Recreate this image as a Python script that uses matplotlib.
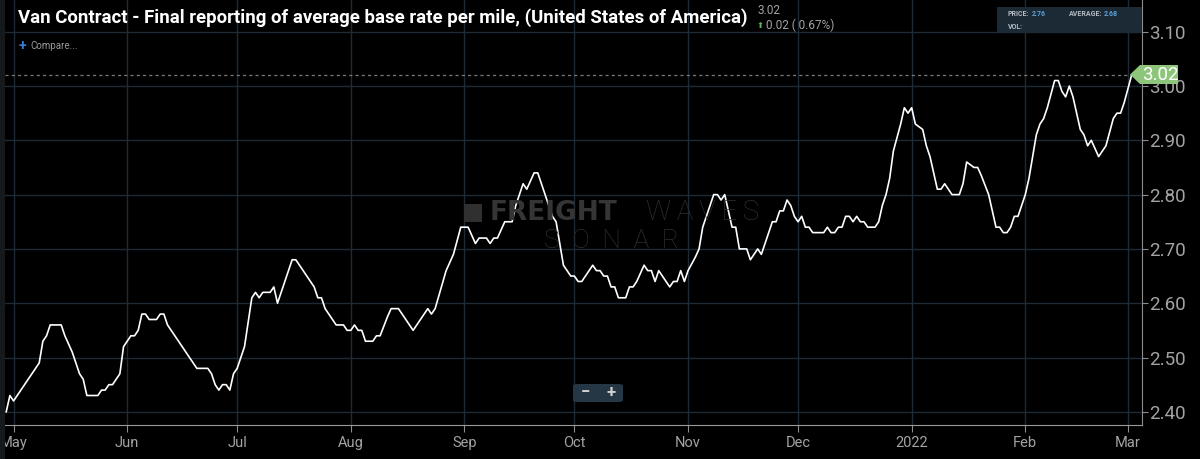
import matplotlib
matplotlib.use("Agg")
import matplotlib.pyplot as plt
import matplotlib.dates as mdates
from matplotlib.patches import Polygon, Rectangle, FancyBboxPatch
from matplotlib.ticker import FuncFormatter
import pandas as pd

# Van contract rate, USD per mile
dates = [
    "2021-04-29", "2021-04-30", "2021-05-01", "2021-05-05", "2021-05-07", "2021-05-08",
    "2021-05-09", "2021-05-10", "2021-05-11", "2021-05-14", "2021-05-15", "2021-05-17",
    "2021-05-19", "2021-05-20", "2021-05-21", "2021-05-24", "2021-05-25", "2021-05-26",
    "2021-05-27", "2021-05-28", "2021-05-30", "2021-05-31", "2021-06-02", "2021-06-03",
    "2021-06-04", "2021-06-05", "2021-06-06", "2021-06-07", "2021-06-09", "2021-06-10",
    "2021-06-11", "2021-06-12", "2021-06-20", "2021-06-23", "2021-06-24", "2021-06-25",
    "2021-06-26", "2021-06-27", "2021-06-28", "2021-06-29", "2021-06-30", "2021-07-01",
    "2021-07-03", "2021-07-05", "2021-07-06", "2021-07-07", "2021-07-08", "2021-07-10",
    "2021-07-11", "2021-07-12", "2021-07-16", "2021-07-17", "2021-07-22", "2021-07-23",
    "2021-07-24", "2021-07-25", "2021-07-28", "2021-07-30", "2021-07-31", "2021-08-01",
    "2021-08-02", "2021-08-03", "2021-08-04", "2021-08-05", "2021-08-07", "2021-08-08",
    "2021-08-09", "2021-08-11", "2021-08-12", "2021-08-14", "2021-08-16", "2021-08-18",
    "2021-08-20", "2021-08-22", "2021-08-23", "2021-08-24", "2021-08-27", "2021-08-29",
    "2021-08-31", "2021-09-02", "2021-09-04", "2021-09-05", "2021-09-07", "2021-09-08",
    "2021-09-09", "2021-09-10", "2021-09-12", "2021-09-14", "2021-09-15", "2021-09-17",
    "2021-09-18", "2021-09-20", "2021-09-21", "2021-09-23", "2021-09-25", "2021-09-26",
    "2021-09-28", "2021-09-30", "2021-10-01", "2021-10-02", "2021-10-03", "2021-10-06",
    "2021-10-07", "2021-10-08", "2021-10-09", "2021-10-10", "2021-10-11", "2021-10-12",
    "2021-10-13", "2021-10-15", "2021-10-16", "2021-10-17", "2021-10-18", "2021-10-20",
    "2021-10-21", "2021-10-22", "2021-10-23", "2021-10-24", "2021-10-27", "2021-10-28",
    "2021-10-29", "2021-10-30", "2021-10-31", "2021-11-01", "2021-11-03", "2021-11-04",
    "2021-11-05", "2021-11-07", "2021-11-08", "2021-11-09", "2021-11-10", "2021-11-11",
    "2021-11-12", "2021-11-13", "2021-11-14", "2021-11-15", "2021-11-17", "2021-11-18",
    "2021-11-20", "2021-11-21", "2021-11-24", "2021-11-25", "2021-11-26", "2021-11-27",
    "2021-11-28", "2021-11-29", "2021-11-30", "2021-12-01", "2021-12-02", "2021-12-03",
    "2021-12-04", "2021-12-05", "2021-12-08", "2021-12-09", "2021-12-10", "2021-12-11",
    "2021-12-12", "2021-12-13", "2021-12-14", "2021-12-15", "2021-12-16", "2021-12-17",
    "2021-12-18", "2021-12-19", "2021-12-20", "2021-12-22", "2021-12-23", "2021-12-24",
    "2021-12-25", "2021-12-26", "2021-12-27", "2021-12-29", "2021-12-30", "2021-12-31",
    "2022-01-01", "2022-01-02", "2022-01-04", "2022-01-05", "2022-01-06", "2022-01-08",
    "2022-01-09", "2022-01-10", "2022-01-12", "2022-01-14", "2022-01-15", "2022-01-16",
    "2022-01-18", "2022-01-19", "2022-01-20", "2022-01-22", "2022-01-24", "2022-01-25",
    "2022-01-26", "2022-01-27", "2022-01-28", "2022-01-29", "2022-01-30", "2022-02-01",
    "2022-02-02", "2022-02-04", "2022-02-05", "2022-02-06", "2022-02-07", "2022-02-09",
    "2022-02-10", "2022-02-11", "2022-02-12", "2022-02-13", "2022-02-14", "2022-02-16",
    "2022-02-17", "2022-02-18", "2022-02-19", "2022-02-21", "2022-02-23", "2022-02-25",
    "2022-02-26", "2022-02-27", "2022-02-28", "2022-03-02",
]
rates = [
    2.40, 2.43, 2.42, 2.46, 2.48, 2.49,
    2.53, 2.54, 2.56, 2.56, 2.54, 2.51,
    2.47, 2.46, 2.43, 2.43, 2.44, 2.44,
    2.45, 2.45, 2.47, 2.52, 2.54, 2.54,
    2.55, 2.58, 2.58, 2.57, 2.57, 2.58,
    2.58, 2.56, 2.48, 2.48, 2.47, 2.45,
    2.44, 2.45, 2.45, 2.44, 2.47, 2.48,
    2.52, 2.61, 2.62, 2.61, 2.62, 2.62,
    2.63, 2.60, 2.68, 2.68, 2.63, 2.61,
    2.61, 2.59, 2.56, 2.56, 2.55, 2.55,
    2.56, 2.55, 2.55, 2.53, 2.53, 2.54,
    2.54, 2.575, 2.59, 2.59, 2.57, 2.55,
    2.57, 2.59, 2.58, 2.59, 2.66, 2.69,
    2.74, 2.74, 2.71, 2.72, 2.72, 2.71,
    2.72, 2.72, 2.75, 2.75, 2.78, 2.82,
    2.81, 2.84, 2.84, 2.80, 2.76, 2.75,
    2.67, 2.65, 2.65, 2.64, 2.64, 2.67,
    2.66, 2.66, 2.65, 2.65, 2.63, 2.63,
    2.61, 2.61, 2.63, 2.63, 2.64, 2.67,
    2.66, 2.66, 2.64, 2.66, 2.63, 2.64,
    2.64, 2.66, 2.64, 2.66, 2.685, 2.70,
    2.74, 2.78, 2.80, 2.80, 2.79, 2.80,
    2.77, 2.74, 2.74, 2.70, 2.70, 2.68,
    2.70, 2.69, 2.75, 2.75, 2.77, 2.77,
    2.79, 2.78, 2.76, 2.75, 2.76, 2.74,
    2.74, 2.73, 2.73, 2.74, 2.73, 2.73,
    2.74, 2.74, 2.76, 2.76, 2.75, 2.76,
    2.75, 2.75, 2.74, 2.74, 2.75, 2.78,
    2.80, 2.83, 2.88, 2.93, 2.96, 2.95,
    2.96, 2.93, 2.92, 2.89, 2.87, 2.81,
    2.81, 2.82, 2.80, 2.80, 2.82, 2.86,
    2.85, 2.85, 2.835, 2.80, 2.74, 2.74,
    2.73, 2.73, 2.74, 2.76, 2.76, 2.80,
    2.83, 2.91, 2.93, 2.94, 2.96, 3.01,
    3.01, 2.99, 2.98, 3.00, 2.98, 2.92,
    2.91, 2.89, 2.90, 2.87, 2.89, 2.94,
    2.95, 2.95, 2.97, 3.02,
]
y_ticks = [2.40, 2.50, 2.60, 2.70, 2.80, 2.90, 3.00, 3.10]
last_value = 3.02

W, H = 1200, 459
BG = "#000000"
GRID = "#1e2a36"
AXIS = "#8c8c8c"
LABEL = "#a3a3a3"


def fx(px):
    return px / W


def fy(py):
    return 1 - py / H


plt.rcParams["font.family"] = ["Roboto", "DejaVu Sans"]

fig = plt.figure(figsize=(W / 100, H / 100), dpi=100, facecolor=BG)
ax = fig.add_axes([fx(5), fy(425), fx(1141.7) - fx(5), fy(0) - fy(425)])
ax.set_facecolor(BG)

x = pd.to_datetime(dates)
ax.plot(x, rates, color="white", linewidth=1.2, zorder=3)

# last value dashed guide
ax.axhline(last_value, color="#7a7a7a", linewidth=0.9, linestyle=(0, (2.5, 2.5)), zorder=2)

ax.set_xlim(pd.Timestamp("2021-04-28 16:00"), pd.Timestamp("2022-03-04 18:00"))
ax.set_ylim(2.3757, 3.1584)

ax.xaxis.set_major_locator(mdates.MonthLocator())
ax.xaxis.set_major_formatter(FuncFormatter(
    lambda v, pos: str(mdates.num2date(v).year) if mdates.num2date(v).month == 1
    else mdates.num2date(v).strftime("%b")))
ax.set_yticks(y_ticks)
ax.yaxis.set_major_formatter(FuncFormatter(lambda v, pos: f"{v:.2f}"))
ax.yaxis.tick_right()

ax.grid(True, color=GRID, linewidth=1.0, zorder=0)
ax.tick_params(axis="x", colors=AXIS, labelcolor=LABEL, labelsize=10.5, length=5, pad=3)
ax.tick_params(axis="y", colors=AXIS, labelcolor=LABEL, labelsize=13.5, length=4, pad=1)
for side in ["top", "left"]:
    ax.spines[side].set_visible(False)
ax.spines["bottom"].set_color("#9a9a9a")
ax.spines["right"].set_color(AXIS)

# dark strip on the left edge
fig.patches.append(Rectangle((0, 0), fx(5), 1, transform=fig.transFigure,
                             facecolor="#16191c", edgecolor="none", zorder=0))

# title block - shrink the font until it spans the same width as the original
title = fig.text(fx(18), fy(18), "Van Contract - Final reporting of average base rate per mile, "
                 "(United States of America)", color="white", fontsize=15, fontweight="bold",
                 va="center", ha="left")
renderer = fig.canvas.get_renderer()
tw = title.get_window_extent(renderer).width
title.set_fontsize(15 * 732 / tw)

fig.text(fx(757), fy(11), "3.02", color=LABEL, fontsize=8.5, va="center")
fig.text(fx(757), fy(25), "\u2b06", color="#5cb85c", fontsize=6, va="center",
         family=["DejaVu Sans"])
fig.text(fx(766), fy(25), "0.02 ( 0.67%)", color=LABEL, fontsize=8.5, va="center")
fig.text(fx(19), fy(46), "+", color="#3d7fd6", fontsize=10, va="center", fontweight="bold")
fig.text(fx(30), fy(46), "Compare...", color="#9a9a9a", fontsize=7, va="center")

# price box top right
fig.patches.append(Rectangle((fx(997), fy(33)), fx(1141.7) - fx(997), fy(7) - fy(33),
                             transform=fig.transFigure, facecolor="#1c2a36",
                             edgecolor="none", zorder=1))
small = dict(fontsize=5, va="center", fontweight="bold", zorder=2)
fig.text(fx(1008), fy(14), "PRICE:", color="#b5bcc4", **small)
fig.text(fx(1032), fy(14), "2.76", color="#5aa3dc", **small)
avg = fig.text(fx(1069), fy(14), "AVERAGE:", color="#b5bcc4", **small)
avg_right = avg.get_window_extent(renderer).x1
fig.text((avg_right + 1) / W, fy(14), "2.68", color="#5aa3dc", **small)
fig.text(fx(1008), fy(27), "VOL:", color="#b5bcc4", **small)

# last value tag
tag_y = 74.5
fig.patches.append(Polygon([(fx(1130), fy(tag_y)), (fx(1140), fy(65)), (fx(1178), fy(65)),
                            (fx(1178), fy(84)), (fx(1140), fy(84))], closed=True,
                           transform=fig.transFigure, facecolor="#8dc67b",
                           edgecolor="none", zorder=5))
fig.text(fx(1160), fy(tag_y), f"{last_value:.2f}", color="white", fontsize=13.5,
         ha="center", va="center", zorder=6)

# watermark
fig.patches.append(Rectangle((fx(464), fy(222)), fx(18), fy(204) - fy(222),
                             transform=fig.transFigure, facecolor="#303030",
                             edgecolor="none", zorder=1))
fig.text(fx(490), fy(213), "FREIGHT", color="#353535", fontsize=19, fontweight="bold",
         family=["DejaVu Sans"], va="center", ha="left", zorder=1)
fig.text(fx(759), fy(213), "W\u2009A\u2009V\u2009E\u2009S", color="#2e2e2e", fontsize=20,
         fontweight="light", va="center", ha="right", zorder=1)
fig.text(fx(612), fy(241), "S  O  N  A  R", color="#2e2e2e", fontsize=19, fontweight="light",
         va="center", ha="center", zorder=1)

# zoom buttons
fig.patches.append(FancyBboxPatch((fx(573), fy(402)), fx(50), fy(384) - fy(402),
                                  boxstyle="round,pad=0,rounding_size=0.004",
                                  transform=fig.transFigure, facecolor="#253744",
                                  edgecolor="none", zorder=4))
fig.text(fx(585), fy(393), "\u2212", color="#d0d0d0", fontsize=12, ha="center",
         va="center", fontweight="bold", zorder=5)
fig.text(fx(611), fy(393), "+", color="#d0d0d0", fontsize=12, ha="center",
         va="center", fontweight="bold", zorder=5)

fig.savefig("out.png", dpi=100, facecolor=BG)
